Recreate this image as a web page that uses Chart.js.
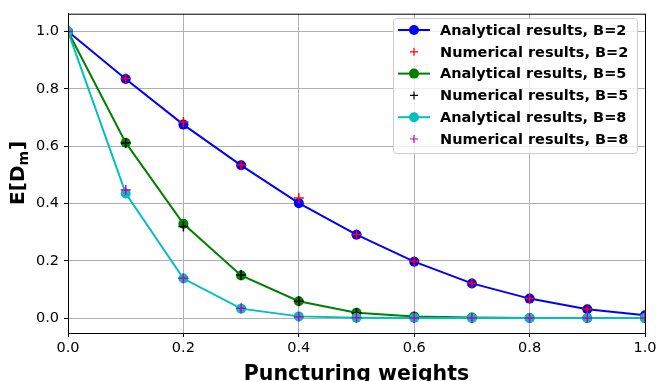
<!DOCTYPE html>
<html>
<head>
<meta charset="utf-8">
<script src="https://cdn.jsdelivr.net/npm/chart.js@4"></script>
<style>
  html, body { margin: 0; padding: 0; background: #fff; }
  #wrap { width: 656px; height: 381px; }
</style>
</head>
<body>
<div id="wrap"><canvas id="grafico" width="656" height="381"></canvas></div>
<script>
// dados
const pesos = [0.0, 0.1, 0.2, 0.3, 0.4, 0.5, 0.6, 0.7, 0.8, 0.9, 1.0];
const analiticoB2 = [1.0, 0.834, 0.675, 0.533, 0.401, 0.291, 0.197, 0.121, 0.068, 0.031, 0.010];
const numericoB2 = [1.0, 0.836, 0.684, 0.534, 0.419, 0.292, 0.198, 0.122, 0.068, 0.032, 0.010];
const analiticoB5 = [1.0, 0.612, 0.329, 0.149, 0.059, 0.019, 0.006, 0.002, 0.0005, 0.0001, 0.0];
const numericoB5 = [1.0, 0.611, 0.320, 0.150, 0.059, 0.018, 0.005, 0.001, 0.0, 0.0, 0.0];
const analiticoB8 = [1.0, 0.435, 0.138, 0.033, 0.006, 0.001, 0.0001, 0.0, 0.0, 0.0, 0.0];
const numericoB8 = [1.0, 0.447, 0.139, 0.034, 0.005, 0.001, 0.0, 0.0, 0.0, 0.0, 0.0];
const xTicks = [0.0, 0.2, 0.4, 0.6, 0.8, 1.0];
const yTicks = [0.0, 0.2, 0.4, 0.6, 0.8, 1.0];

const fonte = "'DejaVu Sans', sans-serif";
Chart.defaults.font.family = fonte;
Chart.defaults.color = '#000';

function pontos(ys) {
  return pesos.map((x, i) => ({ x: x, y: ys[i] }));
}

function analitico(label, ys, cor, ordem) {
  return {
    label: label, data: pontos(ys), order: ordem,
    borderColor: cor, backgroundColor: cor, borderWidth: 2,
    pointRadius: 5, pointBorderWidth: 0, pointHoverRadius: 5,
    pointStyle: 'circle', showLine: true, tension: 0
  };
}

function numerico(label, ys, cor, ordem) {
  return {
    label: label, data: pontos(ys), order: ordem,
    borderColor: cor, backgroundColor: cor, borderWidth: 1.5,
    pointRadius: 5, pointBorderWidth: 1.5, pointHoverRadius: 5,
    pointStyle: 'cross', showLine: false
  };
}

// títulos dos eixos, moldura e legenda desenhados à mão
const extrasPlugin = {
  id: 'extras',
  afterDraw(chart) {
    const ctx = chart.ctx;
    const a = chart.chartArea;
    ctx.save();
    // moldura
    ctx.strokeStyle = '#000';
    ctx.lineWidth = 1;
    ctx.strokeRect(a.left + 0.5, a.top + 0.5, a.right - a.left, a.bottom - a.top);

    // título eixo x
    ctx.font = "bold 20.5px " + fonte;
    ctx.textAlign = 'center';
    ctx.textBaseline = 'alphabetic';
    ctx.fillText('Puncturing weights', (a.left + a.right) / 2, 380);

    // título eixo y: E[D_m]
    ctx.translate(24, (a.top + a.bottom) / 2);
    ctx.rotate(-Math.PI / 2);
    ctx.textAlign = 'left';
    const p1 = 'E[D', p3 = ']';
    ctx.font = "bold 20px " + fonte;
    const w1 = ctx.measureText(p1).width;
    const w3 = ctx.measureText(p3).width;
    ctx.font = "bold 14px " + fonte;
    const w2 = ctx.measureText('m').width;
    let x0 = -(w1 + w2 + w3) / 2;
    ctx.font = "bold 20px " + fonte;
    ctx.fillText(p1, x0, 0);
    ctx.font = "bold 14px " + fonte;
    ctx.fillText('m', x0 + w1, 4);
    ctx.font = "bold 20px " + fonte;
    ctx.fillText(p3, x0 + w1 + w2 + 1, 0);
    ctx.restore();

    // legenda
    ctx.save();
    const lx = 393, ly = 18, lw = 244, lh = 135;
    ctx.fillStyle = 'rgba(255,255,255,0.8)';
    ctx.strokeStyle = '#cccccc';
    ctx.lineWidth = 1;
    ctx.beginPath();
    ctx.roundRect(lx + 0.5, ly + 0.5, lw, lh, 3);
    ctx.fill();
    ctx.stroke();
    ctx.font = "bold 14.5px " + fonte;
    ctx.textBaseline = 'middle';
    ctx.textAlign = 'left';
    chart.data.datasets.forEach((ds, i) => {
      const y = ly + 12 + i * 21.8;
      ctx.strokeStyle = ds.borderColor;
      ctx.fillStyle = ds.borderColor;
      if (ds.showLine) {
        ctx.lineWidth = 2;
        ctx.beginPath();
        ctx.moveTo(lx + 5, y);
        ctx.lineTo(lx + 37, y);
        ctx.stroke();
        ctx.beginPath();
        ctx.arc(lx + 21, y, 5, 0, Math.PI * 2);
        ctx.fill();
      } else {
        ctx.lineWidth = 1.2;
        ctx.beginPath();
        ctx.moveTo(lx + 17, y);
        ctx.lineTo(lx + 25, y);
        ctx.moveTo(lx + 21, y - 4);
        ctx.lineTo(lx + 21, y + 4);
        ctx.stroke();
      }
      ctx.fillStyle = '#000';
      ctx.fillText(ds.label, lx + 47, y + 1);
    });
    ctx.restore();
  }
};

const ctx = document.getElementById('grafico').getContext('2d');
const grafico = new Chart(ctx, {
  type: 'scatter',
  data: {
    datasets: [
      analitico('Analytical results, B=2', analiticoB2, '#0000ff', 6),
      numerico('Numerical results, B=2', numericoB2, '#ff0000', 5),
      analitico('Analytical results, B=5', analiticoB5, '#008000', 4),
      numerico('Numerical results, B=5', numericoB5, '#000000', 3),
      analitico('Analytical results, B=8', analiticoB8, '#00bfbf', 2),
      numerico('Numerical results, B=8', numericoB8, '#bf00bf', 1)
    ]
  },
  options: {
    responsive: false,
    animation: false,
    layout: { padding: { left: 0, right: 0, top: 11, bottom: 0 } },
    plugins: {
      legend: { display: false },
      tooltip: { enabled: false }
    },
    scales: {
      x: {
        type: 'linear', min: 0, max: 1,
        afterBuildTicks: s => { s.ticks = xTicks.map(v => ({ value: v })); },
        afterFit: s => { s.height = 48; s.paddingRight = 11; },
        ticks: { font: { size: 14.5 }, padding: 3, callback: v => v.toFixed(1), maxRotation: 0 },
        grid: { color: '#b0b0b0', lineWidth: 1, tickLength: 4, tickColor: '#000' },
        border: { color: '#000' }
      },
      y: {
        type: 'linear', min: -0.052, max: 1.062,
        afterBuildTicks: s => { s.ticks = yTicks.map(v => ({ value: v })); },
        afterFit: s => { s.width = 68; },
        ticks: { font: { size: 14.5 }, padding: 5, callback: v => v.toFixed(1) },
        grid: { color: '#b0b0b0', lineWidth: 1, tickLength: 4, tickColor: '#000' },
        border: { color: '#000' }
      }
    }
  },
  plugins: [extrasPlugin]
});
</script>
</body>
</html>
